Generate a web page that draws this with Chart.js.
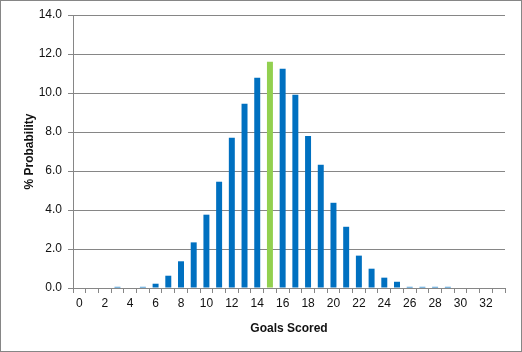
<!DOCTYPE html>
<html>
<head>
<meta charset="utf-8">
<script src="https://cdn.jsdelivr.net/npm/chart.js@4"></script>
<style>
  body { margin: 0; background: #fff; }
  #box { width: 522px; height: 352px; box-sizing: border-box; border: 1px solid #868686; }
  canvas { display: block; }
</style>
</head>
<body>
<div id="box"><canvas id="goals" width="520" height="350"></canvas></div>
<script>
// goals 0..33 and % probability of each
const goals = []
for (let g = 0; g <= 33; g++) goals.push(String(g))

const probability = [
  0, 0, 0, 0.06, 0, 0.06, 0.22, 0.63, 1.37, 2.34,
  3.76, 5.45, 7.7, 9.45, 10.78, 11.6, 11.25, 9.91, 7.8, 6.32,
  4.37, 3.14, 1.66, 0.99, 0.53, 0.32, 0.06, 0.06, 0.06, 0.06,
  0, 0, 0, 0
]

const highlightGoal = 15
const barColors = goals.map(g => Number(g) === highlightGoal ? '#92D050' : '#0070C0')

const ctx = document.getElementById('goals')

new Chart(ctx, {
  type: 'bar',
  data: {
    labels: goals,
    datasets: [{
      label: '% Probability',
      data: probability,
      backgroundColor: barColors,
      categoryPercentage: 1,
      barPercentage: 0.47
    }]
  },
  options: {
    responsive: false,
    animation: false,
    layout: { padding: { top: 14, right: 16, left: 0, bottom: 0 } },
    plugins: { legend: { display: false }, tooltip: { enabled: false } },
    scales: {
      x: {
        afterFit: s => { s.height = 63 },
        grid: { drawOnChartArea: false, drawTicks: true, tickLength: 5, color: '#868686', offset: true },
        border: { color: '#868686' },
        ticks: {
          color: '#111',
          font: { family: 'Liberation Sans', size: 12 },
          maxRotation: 0,
          autoSkip: false,
          padding: 3,
          callback: (v, i) => i % 2 === 0 ? goals[i] : ''
        },
        title: {
          display: true,
          text: 'Goals Scored',
          color: '#111',
          font: { family: 'Liberation Sans', size: 12, weight: 'bold' },
          padding: { top: 6, bottom: 15 }
        }
      },
      y: {
        min: 0,
        max: 14,
        afterFit: s => { s.width = 72 },
        grid: { color: '#868686', tickLength: 5 },
        border: { color: '#868686' },
        ticks: {
          stepSize: 2,
          color: '#111',
          font: { family: 'Liberation Sans', size: 12 },
          padding: 6,
          callback: v => v.toFixed(1)
        },
        title: {
          display: true,
          text: '% Probability',
          color: '#111',
          font: { family: 'Liberation Sans', size: 12, weight: 'bold' },
          padding: { top: 21, bottom: 4 }
        }
      }
    }
  }
})
</script>
</body>
</html>
